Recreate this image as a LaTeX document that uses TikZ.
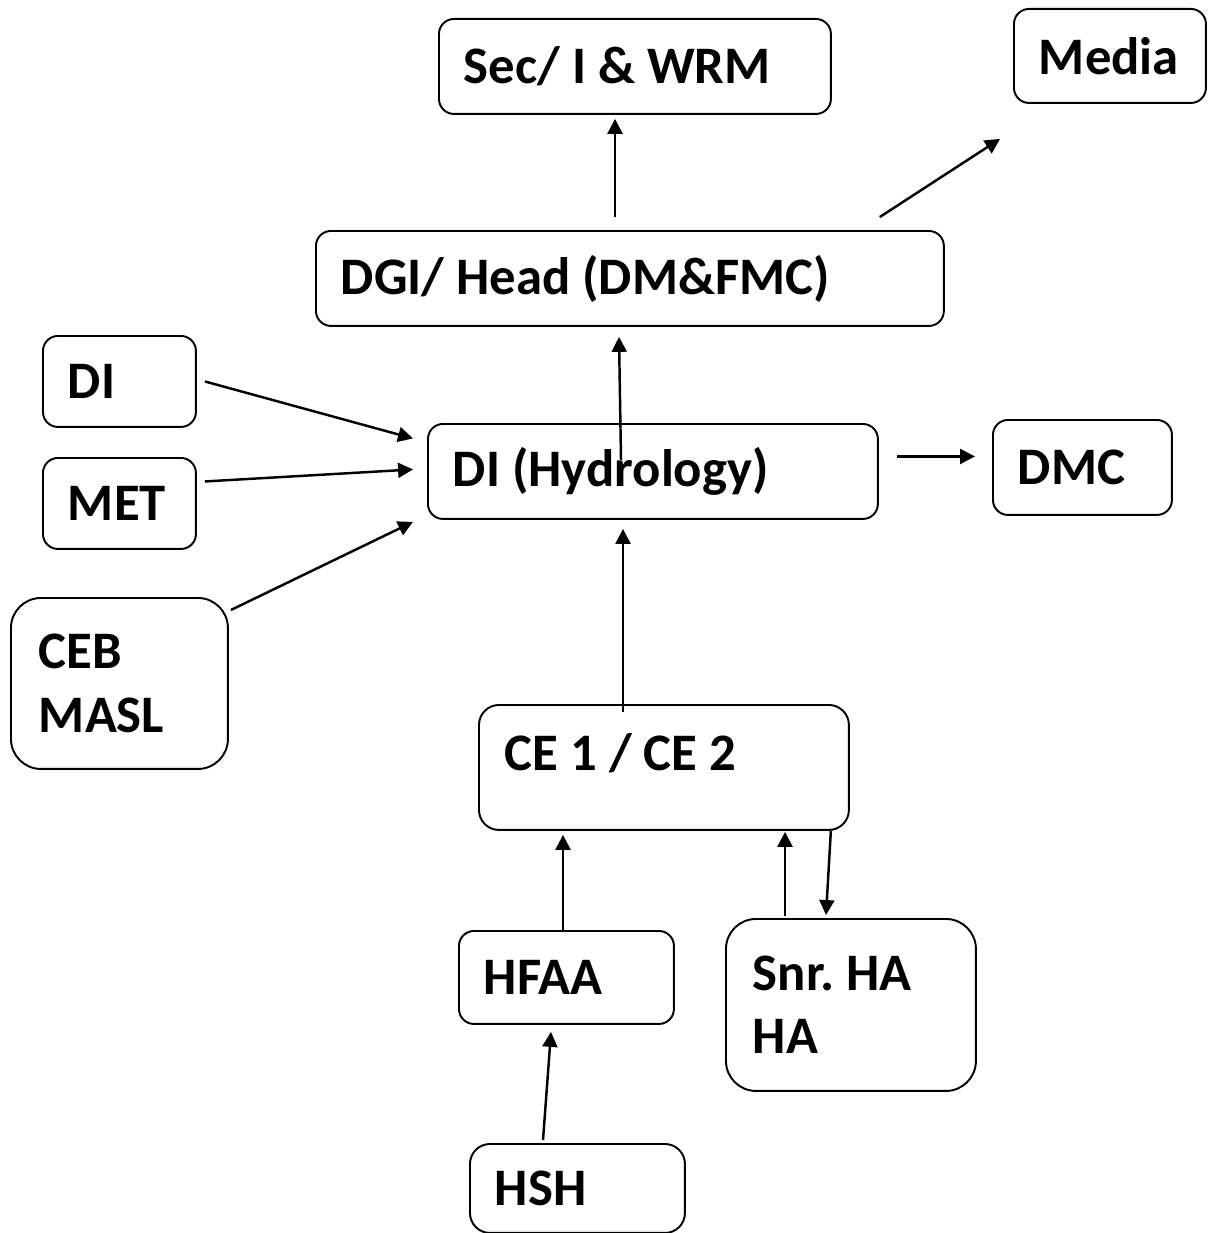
\documentclass[tikz,border=0pt]{standalone}
\usepackage{fontspec}
\setmainfont{Carlito}
\frenchspacing
\usepackage{tikz}
\usetikzlibrary{calc,arrows.meta}
\definecolor{ink}{HTML}{000000}
\tikzset{
  box/.style={draw=ink, line width=1.1pt, rounded corners=0.3cm, anchor=north west, align=flush left,
    inner xsep=0.5cm, inner ysep=0pt, font=\bfseries\fontsize{30}{36}\selectfont},
  bigbox/.style={box, rounded corners=0.6cm},
  arr/.style={draw=ink, line width=1.4pt, -{Triangle[length=8.5pt,width=8.5pt]}},
}

\begin{document}
\begin{tikzpicture}[x=0.02cm, y=-0.02cm]
  \useasboundingbox (0,0) rectangle (1207,1233);
  \node[box, text width=6.84cm, minimum height=1.90cm] (sec) at (438,18) {Sec/ I \& WRM};
  \node[box, text width=2.84cm, minimum height=1.88cm] (media) at (1013,8) {Media};
  \node[box, text width=11.56cm, minimum height=1.90cm] (dgi) at (315,230) {DGI/ Head (DM\&FMC)};
  \node[box, text width=2.06cm, minimum height=1.82cm] (di) at (42,335) {DI};
  \node[box, text width=2.06cm, minimum height=1.82cm] (met) at (42,457) {MET};
  \node[bigbox, inner xsep=0.56cm, text width=3.22cm, minimum height=3.42cm] (ceb) at (10,597) {CEB\\MASL};
  \node[box, text width=8.00cm, minimum height=1.90cm] (dih) at (427,423) {DI (Hydrology)};
  \node[box, text width=2.58cm, minimum height=1.90cm] (dmc) at (992,419) {DMC};
  \node[box, rounded corners=0.4cm, inner xsep=0.52cm, text width=6.36cm,
    text height=1.32cm, text depth=1.18cm] (ce) at (478,704) {CE 1 / CE 2};
  \node[box, text width=3.30cm, minimum height=1.86cm] (hfaa) at (458,930) {HFAA};
  \node[bigbox, inner xsep=0.54cm, text width=3.92cm, minimum height=3.44cm] (snr) at (725,918) {Snr. HA\\HA};
  \node[box, rounded corners=0.4cm, text width=3.30cm, minimum height=1.78cm] (hsh) at (469,1143) {HSH};

  \draw[arr] ($(dgi.north west)+(300,-13)$) -- ($(sec.south west)+(177,4)$);
  \draw[arr] ($(dgi.north east)+(-65,-13)$) -- ($(media.south west)+(-13,35)$);
  \draw[arr] ($(dih.north west)+(194,37)$) -- ($(dgi.south west)+(304,10)$);
  \draw[arr] ($(di.east)+(8,0)$) -- ($(dih.west)+(-14,-33)$);
  \draw[arr] ($(met.east)+(8,-22)$) -- ($(dih.west)+(-14,-2)$);
  \draw[arr] ($(ceb.north east)+(2,13)$) -- ($(dih.south west)+(-14,2)$);
  \draw[arr] ($(dih.east)+(18,-15)$) -- ($(dmc.west)+(-17,-11)$);
  \draw[arr] ($(ce.north west)+(145,8)$) -- ($(dih.south west)+(196,9)$);
  \draw[arr] ($(hfaa.north west)+(105,2)$) -- ($(ce.south west)+(85,4)$);
  \draw[arr] ($(snr.north west)+(60,-2)$) -- ($(ce.south west)+(307,1)$);
  \draw[arr] ($(ce.south east)+(-19,0)$) -- ($(snr.north west)+(101,-3)$);
  \draw[arr] ($(hsh.north west)+(74,-3)$) -- ($(hfaa.south west)+(93,7)$);
\end{tikzpicture}
\end{document}
